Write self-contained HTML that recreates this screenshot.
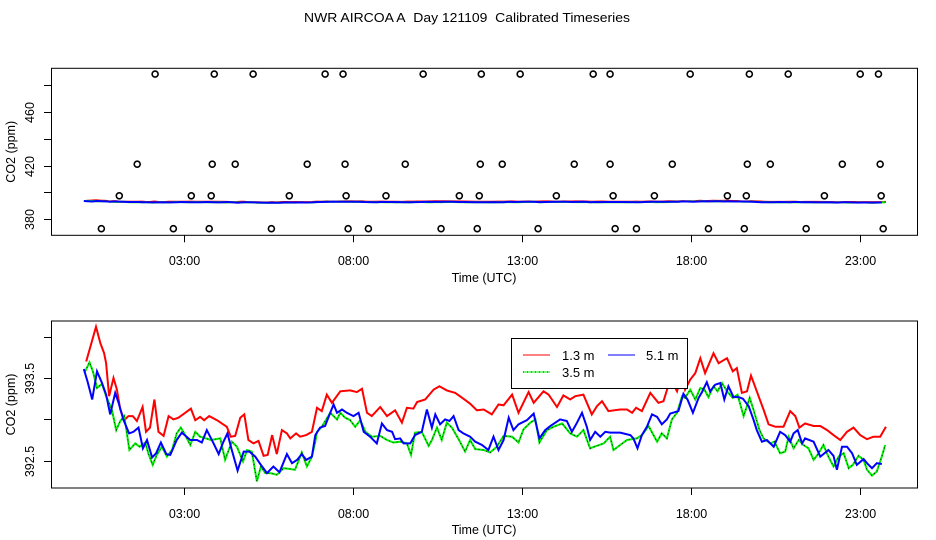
<!DOCTYPE html>
<html><head><meta charset="utf-8"><style>
html,body{margin:0;padding:0;background:#fff;}
svg{display:block;font-family:"Liberation Sans",Arial,sans-serif;}
</style></head><body>
<svg id="chart" width="936" height="540" viewBox="0 0 936 540" xmlns="http://www.w3.org/2000/svg">
<rect width="936" height="540" fill="#fff"/>
<text x="467" y="22" font-size="12.5" text-anchor="middle" textLength="326" lengthAdjust="spacingAndGlyphs">NWR AIRCOA A&#160; Day 121109&#160; Calibrated Timeseries</text>
<g id="topPanel"></g>
<g id="botPanel"></g>
<g id="legend">
<rect x="511.5" y="338.5" width="176" height="50" fill="#fff" stroke="#000" stroke-width="1"/>
<line x1="523" y1="355" x2="550" y2="355" stroke="#f00" stroke-width="1"/>
<text x="562" y="360" font-size="13">1.3 m</text>
<line x1="608" y1="355" x2="635" y2="355" stroke="#00f" stroke-width="1"/>
<text x="646" y="360" font-size="13">5.1 m</text>
<line x1="523" y1="372" x2="550" y2="372" stroke="#0e0" stroke-width="1"/>
<line x1="523" y1="372" x2="550" y2="372" stroke="#000" stroke-width="1" stroke-dasharray="1,3"/>
<text x="562" y="377" font-size="13">3.5 m</text>
</g>
</svg>
<script>
const xTickHours = [3, 8, 13, 18, 23];
const xTickLabels = ["03:00", "08:00", "13:00", "18:00", "23:00"];
const topYTicks = [380, 400, 420, 440, 460, 480];
const topYLabels = ["380", "", "420", "", "460", ""];
const botYTicks = [392.5, 393.0, 393.5, 394.0];
const botYLabels = ["392.5", "", "393.5", ""];

const redT = [0.12,0.41,0.54,0.65,0.71,0.80,0.93,1.03,1.13,1.25,1.37,1.50,1.62,1.79,1.89,2.01,2.14,2.26,2.41,2.56,2.70,2.85,3.02,3.22,3.35,3.49,3.61,3.76,3.99,4.28,4.40,4.53,4.68,4.80,4.92,5.07,5.22,5.37,5.49,5.62,5.76,5.91,6.06,6.16,6.33,6.45,6.63,6.80,6.95,7.09,7.24,7.39,7.64,7.93,8.13,8.28,8.43,8.57,8.82,9.02,9.26,9.46,9.61,9.80,9.91,10.15,10.40,10.57,10.79,11.04,11.28,11.48,11.68,11.88,12.12,12.32,12.47,12.72,12.91,13.21,13.36,13.65,13.80,14.05,14.24,14.44,14.59,14.83,15.08,15.23,15.38,15.57,15.92,16.12,16.27,16.39,16.56,16.81,17.05,17.20,17.35,17.45,17.60,17.75,17.84,17.99,18.14,18.29,18.43,18.68,18.83,19.08,19.25,19.37,19.52,19.67,19.79,19.96,20.16,20.31,20.51,20.75,20.95,21.10,21.22,21.39,21.64,21.84,22.04,22.23,22.43,22.63,22.82,23.02,23.22,23.41,23.61,23.78];
const redV = [393.70,394.12,393.92,393.80,393.68,393.28,393.50,393.36,393.12,392.99,393.04,393.04,392.98,393.15,392.85,392.90,393.24,392.85,392.80,393.04,393.00,393.02,393.07,393.13,392.99,393.03,392.99,393.04,392.99,392.91,392.79,392.80,393.02,393.06,392.75,392.71,392.74,392.56,392.57,392.81,392.58,392.87,392.83,392.77,392.83,392.79,392.81,392.85,393.14,393.10,393.30,393.20,393.34,393.35,393.33,393.37,393.08,393.04,393.15,393.04,393.11,392.96,393.14,393.13,393.21,393.24,393.36,393.40,393.35,393.32,393.25,393.19,393.11,393.12,393.06,393.18,393.17,393.30,393.08,393.33,393.20,393.34,393.30,393.15,393.29,393.24,393.28,393.30,393.06,393.16,393.22,393.10,393.12,393.12,393.08,393.14,393.10,393.32,393.20,393.22,393.42,393.46,393.34,393.57,393.36,393.48,393.56,393.74,393.56,393.80,393.68,393.74,393.58,393.62,393.32,393.34,393.53,393.34,393.12,392.94,392.91,392.91,393.10,393.04,392.90,392.95,392.92,392.92,392.87,392.81,392.75,392.85,392.90,392.81,392.76,392.79,392.79,392.91];

const blueT = [0.05,0.16,0.30,0.44,0.59,0.71,0.83,0.98,1.08,1.22,1.39,1.52,1.67,1.80,1.92,2.07,2.19,2.33,2.49,2.61,2.80,2.95,3.20,3.40,3.54,3.69,3.89,4.04,4.17,4.30,4.43,4.60,4.78,4.95,5.12,5.29,5.47,5.66,5.84,6.06,6.21,6.36,6.50,6.63,6.80,6.90,7.04,7.19,7.34,7.44,7.54,7.69,7.83,8.03,8.18,8.33,8.52,8.72,8.87,9.02,9.17,9.26,9.41,9.51,9.71,9.85,10.05,10.20,10.35,10.45,10.59,10.74,10.87,10.99,11.14,11.28,11.48,11.63,11.83,12.02,12.17,12.32,12.47,12.62,12.76,12.91,13.16,13.36,13.53,13.70,13.85,14.14,14.34,14.49,14.64,14.79,14.93,15.03,15.18,15.33,15.48,15.62,15.92,16.22,16.31,16.43,16.56,16.71,16.86,17.01,17.15,17.30,17.40,17.64,17.79,17.91,18.07,18.24,18.34,18.48,18.58,18.73,18.88,19.00,19.12,19.27,19.42,19.55,19.72,19.86,19.96,20.11,20.26,20.46,20.65,20.80,20.95,21.05,21.17,21.30,21.39,21.64,21.84,22.08,22.23,22.33,22.48,22.63,22.78,22.92,23.12,23.22,23.37,23.51,23.66];
const blueV = [393.61,393.46,393.24,393.58,393.44,393.30,393.06,393.32,393.20,393.00,392.83,392.85,392.90,392.65,392.75,392.54,392.59,392.72,392.58,392.57,392.75,392.84,392.75,392.75,392.72,392.87,392.71,392.58,392.72,392.83,392.63,392.38,392.61,392.61,392.55,392.45,392.35,392.43,392.36,392.58,392.47,392.51,392.58,392.51,392.55,392.81,392.90,392.92,393.08,393.18,393.08,393.12,393.08,393.04,393.08,392.85,392.79,392.71,392.95,392.87,392.85,392.76,392.77,392.71,392.71,392.81,392.85,393.12,392.90,393.06,392.94,393.00,392.98,393.04,392.87,392.83,392.79,392.73,392.69,392.63,392.79,392.63,392.75,393.02,392.87,392.94,392.99,393.07,392.77,392.87,392.92,393.00,392.98,392.85,392.96,393.08,392.91,392.75,392.85,392.79,392.85,392.84,392.84,392.81,392.77,392.65,392.81,392.91,393.06,393.03,392.94,393.00,393.07,393.10,393.31,393.24,393.08,393.26,393.33,393.45,393.34,393.42,393.44,393.24,393.40,393.27,393.27,393.25,393.16,393.00,392.87,392.73,392.75,392.67,392.85,392.81,392.73,392.83,392.87,392.71,392.77,392.73,392.55,392.63,392.56,392.39,392.67,392.67,392.59,392.45,392.52,392.47,392.41,392.47,392.46];

const greenT = [0.09,0.22,0.32,0.44,0.59,0.71,0.88,1.01,1.13,1.25,1.40,1.57,1.70,1.87,1.96,2.09,2.21,2.36,2.51,2.66,2.80,2.92,3.05,3.20,3.35,3.49,3.67,3.81,4.09,4.23,4.43,4.58,4.76,4.88,5.02,5.17,5.29,5.42,5.57,5.76,5.96,6.16,6.30,6.50,6.65,6.80,6.90,6.95,7.09,7.34,7.54,7.64,7.78,7.93,8.08,8.23,8.38,8.57,8.82,9.02,9.21,9.41,9.61,9.73,9.85,10.05,10.25,10.35,10.50,10.64,10.79,10.94,11.14,11.33,11.48,11.63,11.88,12.07,12.27,12.47,12.72,12.91,13.06,13.26,13.41,13.53,13.75,13.95,14.20,14.44,14.64,14.83,15.03,15.23,15.43,15.62,15.72,15.92,16.12,16.41,16.56,16.76,17.01,17.15,17.30,17.45,17.60,17.75,17.84,17.99,18.14,18.29,18.41,18.53,18.68,18.80,18.93,19.08,19.25,19.39,19.57,19.75,19.86,20.04,20.16,20.36,20.48,20.65,20.80,20.90,21.05,21.20,21.34,21.49,21.64,21.79,21.93,22.08,22.23,22.38,22.53,22.68,22.80,22.97,23.12,23.22,23.37,23.51,23.66,23.76];
const greenV = [393.58,393.69,393.58,393.38,393.43,393.28,393.12,392.87,392.98,393.04,392.63,392.71,392.67,392.72,392.59,392.45,392.57,392.67,392.55,392.63,392.83,392.90,392.81,392.69,392.85,392.79,392.77,392.75,392.77,392.51,392.73,392.67,392.49,392.63,392.61,392.25,392.43,392.35,392.35,392.33,392.41,392.40,392.39,392.60,392.43,392.55,392.73,392.85,392.91,393.08,393.00,393.08,393.02,392.99,392.91,392.99,392.85,392.79,392.80,392.75,392.72,392.73,392.71,392.57,392.84,392.85,392.68,392.75,392.90,392.75,392.96,392.90,392.76,392.61,392.75,392.64,392.63,392.60,392.67,392.80,392.79,392.72,392.88,392.96,393.00,392.72,392.87,392.91,392.95,392.83,392.79,392.87,392.65,392.68,392.71,392.79,392.63,392.69,392.75,392.77,392.81,392.92,392.73,392.83,392.77,393.00,393.08,393.28,393.26,393.36,393.24,393.38,393.36,393.27,393.40,393.34,393.44,393.34,393.26,393.30,393.04,393.26,393.12,392.87,392.77,392.71,392.73,392.59,392.61,392.79,392.65,392.75,392.69,392.65,392.51,392.59,392.69,392.55,392.43,392.55,392.59,392.41,392.45,392.56,392.51,392.39,392.32,392.37,392.55,392.69];

const cal488T = [2.16,3.91,5.06,7.19,7.72,10.09,11.81,12.96,15.12,15.62,17.99,19.74,20.89,23.02,23.56];
const cal421T = [1.63,3.85,4.53,6.66,7.78,9.56,11.78,12.43,14.56,15.62,17.46,19.68,20.36,22.49,23.61];
const cal397T = [1.10,3.23,3.82,6.13,7.81,8.99,11.16,11.75,14.03,15.71,16.93,19.09,19.65,21.96,23.64];
const cal373T = [0.57,2.70,3.76,5.60,7.87,8.47,10.62,11.69,13.49,15.77,16.40,18.53,19.59,21.42,23.70];
const calLevels = [488, 421, 397.5, 373];

const NS = "http://www.w3.org/2000/svg";
const PX0 = 51, PX1 = 917;
const hourMin = -0.92, hourMax = 24.70;
function xScale(h){ return PX0 + (h - hourMin) / (hourMax - hourMin) * (PX1 - PX0); }
const topBox = {y0: 68.3, y1: 235.3, vMin: 368.1, vMax: 492.3};
const botBox = {y0: 321, y1: 488, vMin: 392.17, vMax: 394.19};
function yS(box, v){ return box.y1 - (v - box.vMin) / (box.vMax - box.vMin) * (box.y1 - box.y0); }

function mk(tag, attrs, parent){
  const e = document.createElementNS(NS, tag);
  for (const k in attrs) e.setAttribute(k, attrs[k]);
  parent.appendChild(e);
  return e;
}

function drawPanel(g, box, yTicks, yLabels, xLabelY, titleY){
  const frame = mk("rect", {x: PX0 + 0.5, y: box.y0, width: PX1 - PX0, height: box.y1 - box.y0, fill: "none", stroke: "#000", "stroke-width": 1}, g);
  
  
  xTickHours.forEach((h, i) => {
    const x = Math.round(xScale(h)) + 0.5;
    const t = mk("line", {x1: x, y1: box.y1, x2: x, y2: box.y1 + 7, stroke: "#000"}, g);
    
    
    const lb = mk("text", {x: x, y: xLabelY, "font-size": 12.5, "text-anchor": "middle"}, g);
    lb.textContent = xTickLabels[i];
    
    
  });
  const xt = mk("text", {x: 484, y: titleY, "font-size": 12.5, "text-anchor": "middle"}, g);
  xt.textContent = "Time (UTC)";
  
  
  yTicks.forEach((v, i) => {
    const y = Math.round(yS(box, v)) + 0.5;
    const t = mk("line", {x1: PX0 - 7, y1: y, x2: PX0, y2: y, stroke: "#000"}, g);
    
    
    if (yLabels[i]) {
      const lb = mk("text", {x: 34, y: y, "font-size": 12.5, "text-anchor": "middle", transform: "rotate(-90 34 " + y + ")"}, g);
      lb.textContent = yLabels[i];
      
      
    }
  });
  const cy = (box.y0 + box.y1) / 2;
  const yt = mk("text", {x: 15, y: cy, "font-size": 12.5, "text-anchor": "middle", transform: "rotate(-90 15 " + cy + ")"}, g);
  yt.textContent = "CO2 (ppm)";
  
  
}

function series(g, box, T, V, color, name, w, dash){
  const pts = T.map((t, i) => xScale(t).toFixed(1) + "," + yS(box, V[i]).toFixed(1)).join(" ");
  const p = mk("polyline", {points: pts, fill: "none", stroke: color, "stroke-width": w, "stroke-linejoin": "miter"}, g);
  if (dash) p.setAttribute("stroke-dasharray", dash);
  
  
}

const topG = document.getElementById("topPanel");
const botG = document.getElementById("botPanel");
drawPanel(topG, topBox, topYTicks, topYLabels, 265, 282);
drawPanel(botG, botBox, botYTicks, botYLabels, 518, 534);

[[cal488T, 0], [cal421T, 1], [cal397T, 2], [cal373T, 3]].forEach(([arr, li]) => {
  arr.forEach(t => {
    const c = mk("circle", {cx: xScale(t), cy: yS(topBox, calLevels[li]), r: 3, fill: "none", stroke: "#000", "stroke-width": 1.6}, topG);
    
    
  });
});

[[topG, topBox, 2], [botG, botBox, 2]].forEach(([g, box, w]) => {
  series(g, box, redT, redV, "#f00", "series-1-3m", w);
  series(g, box, greenT, greenV, "#00ee00", "series-3-5m", w);
  series(g, box, greenT, greenV, "#000", "series-3-5m-dots", 0.8, "1,3");
  series(g, box, blueT, blueV, "#00f", "series-5-1m", w);
});

const svgEl = document.getElementById("chart");
svgEl.appendChild(document.getElementById("legend"));
</script>
</body></html>
